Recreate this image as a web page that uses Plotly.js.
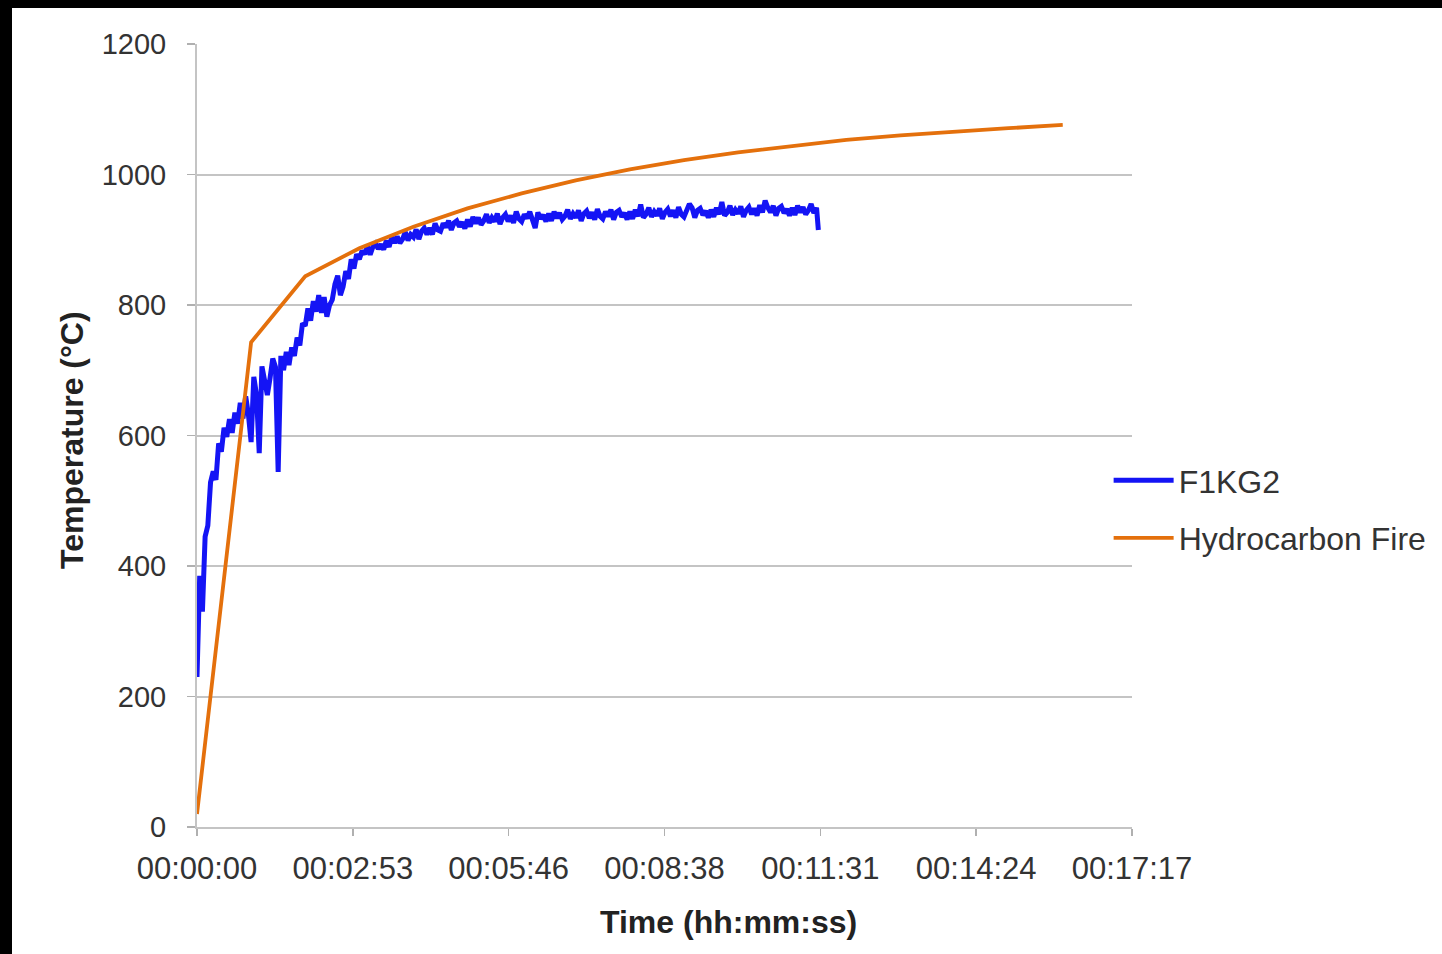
<!DOCTYPE html>
<html>
<head>
<meta charset="utf-8">
<script src="https://cdn.plot.ly/plotly-3.0.1.min.js"></script>
<style>
  html, body { margin: 0; padding: 0; background: #000; width: 1442px; height: 954px; overflow: hidden; }
  #chart { position: absolute; left: 12px; top: 8px; width: 1430px; height: 946px; background: #fff; }
</style>
</head>
<body>
<div id="chart"></div>
<script>
// ---- Data (time in seconds, temperature in °C) ----
const xTickVals = [0, 172.8, 345.6, 518.4, 691.2, 864, 1036.8];
const xTickText = ["00:00:00", "00:02:53", "00:05:46", "00:08:38", "00:11:31", "00:14:24", "00:17:17"];

// Hydrocarbon fire curve, read at one-minute points
const hcTime = [0, 60, 120, 180, 240, 300, 360, 420, 480, 540, 600, 660, 720, 780, 840, 900, 960];
const hcTemp = [20, 743, 844, 887, 920, 948, 971, 991, 1008, 1022, 1034, 1044, 1053, 1060, 1066, 1071, 1076];

// F1KG2 measured temperature, read every 3 s
const f1Time = [
  0,3,6,9,12,15,18,21,24,27,
  30,33,36,39,42,45,48,51,54,57,
  60,63,66,69,72,75,78,81,84,87,
  90,93,96,99,102,105,108,111,114,117,
  120,123,126,129,132,135,138,141,144,147,
  150,153,156,159,162,165,168,171,174,177,
  180,183,186,189,192,195,198,201,204,207,
  210,213,216,219,222,225,228,231,234,237,
  240,243,246,249,252,255,258,261,264,267,
  270,273,276,279,282,285,288,291,294,297,
  300,303,306,309,312,315,318,321,324,327,
  330,333,336,339,342,345,348,351,354,357,
  360,363,366,369,372,375,378,381,384,387,
  390,393,396,399,402,405,408,411,414,417,
  420,423,426,429,432,435,438,441,444,447,
  450,453,456,459,462,465,468,471,474,477,
  480,483,486,489,492,495,498,501,504,507,
  510,513,516,519,522,525,528,531,534,537,
  540,543,546,549,552,555,558,561,564,567,
  570,573,576,579,582,585,588,591,594,597,
  600,603,606,609,612,615,618,621,624,627,
  630,633,636,639,642,645,648,651,654,657,
  660,663,666,669,672,675,678,681,684,687,
  689
];
const f1Temp = [
  230,385,330,445,462,528,545,532,588,575,
  612,598,625,604,635,618,650,626,660,632,
  590,690,662,573,706,680,662,688,718,705,
  544,722,700,728,708,735,722,750,738,772,
  768,795,776,806,790,815,788,812,782,800,
  808,832,845,815,828,852,840,870,856,878,
  870,883,878,890,877,889,894,886,893,885,
  899,889,904,895,905,895,901,912,899,908,
  904,916,901,913,918,908,918,908,925,915,
  913,925,919,929,915,926,929,920,927,917,
  931,920,935,925,934,923,929,939,926,934,
  928,940,924,934,939,928,937,926,943,932,
  928,939,933,943,928,918,942,932,938,928,
  940,929,943,933,941,931,936,946,932,940,
  934,945,929,940,944,933,942,931,947,936,
  932,943,936,946,931,942,945,935,941,931,
  943,932,946,936,954,934,939,949,935,943,
  937,948,932,942,947,936,945,934,950,939,
  935,946,955,949,934,945,948,938,944,934,
  946,935,949,939,958,937,942,952,938,946,
  940,951,935,945,950,939,948,937,953,942,
  960,949,942,952,937,948,951,941,947,937,
  949,938,952,942,950,939,945,955,941,949,
  915
];

const font = "Liberation Sans, Arial, sans-serif";
const textColor = "#333333";
const gridColor = "#c4c4c4";

const traces = [
  {
    x: f1Time, y: f1Temp, type: "scatter", mode: "lines", name: "F1KG2",
    legendgroup: "a",
    line: { color: "#1414f5", width: 5 }
  },
  {
    x: hcTime, y: hcTemp, type: "scatter", mode: "lines", name: "Hydrocarbon Fire",
    legendgroup: "b",
    line: { color: "#e4700c", width: 3.8 }
  }
];

const layout = {
  width: 1430, height: 946,
  paper_bgcolor: "#ffffff", plot_bgcolor: "#ffffff",
  margin: { l: 185, r: 310, t: 36, b: 127, autoexpand: false },
  font: { family: font, size: 29, color: textColor },
  showlegend: true,
  legend: {
    x: 0.975, xanchor: "left", y: 0.4055, yanchor: "middle",
    font: { family: font, size: 32, color: textColor },
    itemwidth: 60,
    tracegroupgap: 13, bgcolor: "rgba(0,0,0,0)"
  },
  xaxis: {
    range: [0, 1036.8], tickmode: "array", tickvals: xTickVals, ticktext: xTickText,
    showgrid: false, zeroline: false,
    showline: true, linecolor: gridColor, linewidth: 2,
    ticks: "outside", ticklen: 7, tickwidth: 1.5, tickcolor: "#b0b0b0",
    ticklabelstandoff: 6,
    tickfont: { family: font, size: 31, color: textColor }
  },
  yaxis: {
    range: [0, 1200], dtick: 200, tick0: 0,
    showgrid: true, gridcolor: gridColor, gridwidth: 2, zeroline: false,
    showline: true, linecolor: gridColor, linewidth: 2,
    ticks: "outside", ticklen: 8, tickwidth: 1.5, tickcolor: "#b0b0b0",
    ticklabelstandoff: 15,
    tickfont: { family: font, size: 29, color: textColor }
  },
  annotations: [
    {
      text: "<b>Time (hh:mm:ss)</b>", xref: "paper", yref: "paper",
      x: 0.568, y: -0.121, xanchor: "center", yanchor: "middle", showarrow: false,
      font: { family: font, size: 32, color: "#222" }
    },
    {
      text: "<b>Temperature (°C)</b>", xref: "paper", yref: "paper",
      x: -0.1337, y: 0.4942, xanchor: "center", yanchor: "middle", showarrow: false,
      textangle: -90,
      font: { family: font, size: 32, color: "#222" }
    }
  ]
};

Plotly.newPlot("chart", traces, layout, { displayModeBar: false, staticPlot: true });
</script>
</body>
</html>
